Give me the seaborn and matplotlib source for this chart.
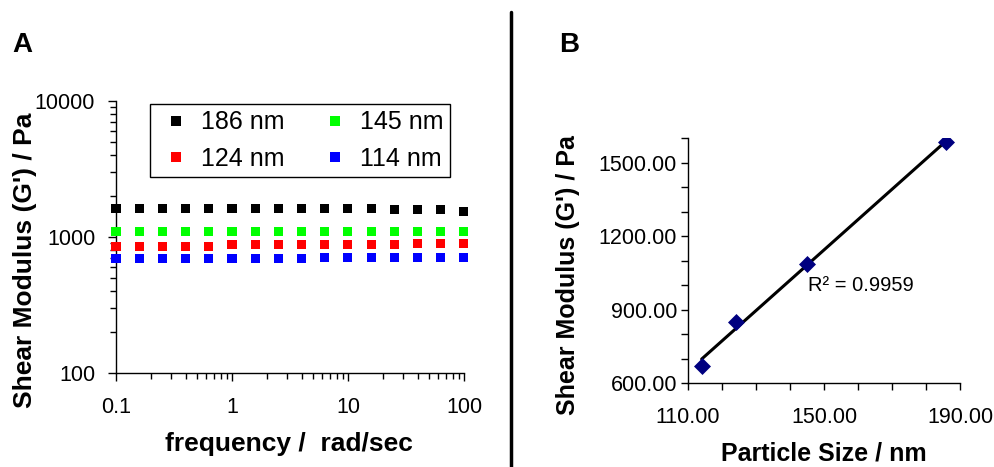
import numpy as np
import pandas as pd
import seaborn as sns
import matplotlib.pyplot as plt
from matplotlib.lines import Line2D
from matplotlib.ticker import MultipleLocator, LogLocator, NullFormatter

# --- datos ---
FREQ = [0.1, 0.158, 0.251, 0.398, 0.631, 1.0, 1.58, 2.51, 3.98, 6.31,
        10.0, 15.8, 25.1, 39.8, 63.1, 100.0]
G_186 = [1624, 1624, 1624, 1624, 1624, 1624, 1624, 1624, 1624, 1624,
         1624, 1624, 1597, 1597, 1597, 1551]
G_145 = [1094, 1094, 1094, 1094, 1094, 1094, 1094, 1094, 1094, 1094,
         1094, 1094, 1094, 1094, 1094, 1094]
G_124 = [849, 849, 849, 849, 849, 874, 874, 874, 874, 874,
         874, 874, 874, 893, 893, 893]
G_114 = [690, 690, 690, 690, 690, 690, 690, 690, 690, 710,
         710, 710, 710, 710, 710, 710]
LABELS = ["186 nm", "145 nm", "124 nm", "114 nm"]
COLORS = ["#000000", "#00ff00", "#ff0000", "#0000ff"]

SIZES = [114, 124, 145, 186]
G_MEAN = [672, 851, 1087, 1584]
SIZE_ERR = [1.5, 1.5, 1.5, 1.5]
R2_TEXT = "R² = 0.9959"

sns.set_style("ticks")
plt.rcParams["font.family"] = ["Liberation Sans", "DejaVu Sans"]
plt.rcParams["axes.edgecolor"] = "black"
plt.rcParams["axes.linewidth"] = 1.0
plt.rcParams["text.color"] = "black"
plt.rcParams["axes.labelcolor"] = "black"
plt.rcParams["xtick.color"] = "black"
plt.rcParams["ytick.color"] = "black"

rows = []
for lab, vals in zip(LABELS, [G_186, G_145, G_124, G_114]):
    for f, g in zip(FREQ, vals):
        rows.append({"freq": f, "G": g, "size": lab})
df = pd.DataFrame(rows)

fig = plt.figure(figsize=(9.94, 4.67), dpi=100)

# --- Panel A ---
ax1 = fig.add_axes([0.1167, 0.2013, 0.3501, 0.5824])
sns.scatterplot(data=df, x="freq", y="G", hue="size", hue_order=LABELS,
                palette=COLORS, marker="s", s=42, linewidth=0, ax=ax1,
                clip_on=False, zorder=3)
ax1.set_xscale("log")
ax1.set_yscale("log")
ax1.set_xlim(0.1, 100)
ax1.set_ylim(100, 10000)
ax1.set_xticks([0.1, 1, 10, 100], ["0.1", "1", "10", "100"])
ax1.set_yticks([100, 1000, 10000], ["100", "1000", "10000"])
ax1.xaxis.set_minor_locator(LogLocator(base=10, subs=np.arange(2, 10)))
ax1.yaxis.set_minor_locator(LogLocator(base=10, subs=np.arange(2, 10)))
ax1.xaxis.set_minor_formatter(NullFormatter())
ax1.yaxis.set_minor_formatter(NullFormatter())
ax1.tick_params(axis="both", which="major", labelsize=15.5, length=6, width=1, color="black")
ax1.tick_params(axis="both", which="minor", length=4, width=1, color="black")
ax1.tick_params(axis="x", which="major", pad=11)
ax1.tick_params(axis="y", which="major", pad=9)
ax1.set_xlabel("frequency /  rad/sec", fontsize=19, fontweight="bold")
ax1.set_ylabel("Shear Modulus (G') / Pa", fontsize=19, fontweight="bold")
ax1.xaxis.set_label_coords(0.497, -0.217)
ax1.yaxis.set_label_coords(-0.227, 0.415)
sns.despine(ax=ax1)

handles, labels = ax1.get_legend_handles_labels()
hmap = dict(zip(labels, handles))
order = ["186 nm", "124 nm", "145 nm", "114 nm"]
ax1.legend([hmap[k] for k in order], order, ncol=2, loc="upper left",
           bbox_to_anchor=(0.098, 0.989), borderaxespad=0, fontsize=18,
           frameon=True, fancybox=False, edgecolor="black", framealpha=1,
           handletextpad=0.2, columnspacing=1.2, labelspacing=0.5,
           markerscale=1.0, borderpad=0.25, handlelength=1.6)
ax1.get_legend().get_frame().set_linewidth(1.0)

# --- Panel B ---
ax2 = fig.add_axes([0.6922, 0.1792, 0.2736, 0.5247])
ax2.errorbar(SIZES, G_MEAN, xerr=SIZE_ERR, fmt="none", ecolor="#000080",
             elinewidth=1, capsize=0, zorder=2)
sns.regplot(x=SIZES, y=G_MEAN, ci=None, scatter=False, ax=ax2,
            line_kws={"color": "black", "linewidth": 2.2, "zorder": 3})
sns.scatterplot(x=SIZES, y=G_MEAN, marker="D", color="#000080", s=75,
                linewidth=0, ax=ax2, zorder=4)
ax2.set_xlim(110, 190)
ax2.set_ylim(600, 1600)
ax2.set_xticks([110, 150, 190], ["110.00", "150.00", "190.00"])
ax2.set_yticks([600, 900, 1200, 1500], ["600.00", "900.00", "1200.00", "1500.00"])
ax2.xaxis.set_minor_locator(MultipleLocator(10))
ax2.yaxis.set_minor_locator(MultipleLocator(100))
ax2.tick_params(axis="both", which="both", labelsize=15.5, length=5, width=1, color="black")
ax2.tick_params(axis="x", which="major", pad=12)
ax2.tick_params(axis="y", which="major", pad=3)
ax2.set_xlabel("Particle Size / nm", fontsize=18, fontweight="bold")
ax2.set_ylabel("Shear Modulus (G') / Pa", fontsize=18, fontweight="bold")
ax2.xaxis.set_label_coords(0.5, -0.237)
ax2.yaxis.set_label_coords(-0.397, 0.442)
ax2.text(0.44, 0.40, R2_TEXT, transform=ax2.transAxes, fontsize=14.5,
         va="center", ha="left")
sns.despine(ax=ax2)

# etiquetas de panel y separador
fig.text(0.012, 0.904, "A", fontsize=20, fontweight="bold", va="center")
fig.text(0.562, 0.904, "B", fontsize=20, fontweight="bold", va="center")
fig.add_artist(Line2D([0.5138, 0.5138], [0.0, 0.974], transform=fig.transFigure,
                      color="black", linewidth=2.5))

fig.savefig("out.png", dpi=100)
